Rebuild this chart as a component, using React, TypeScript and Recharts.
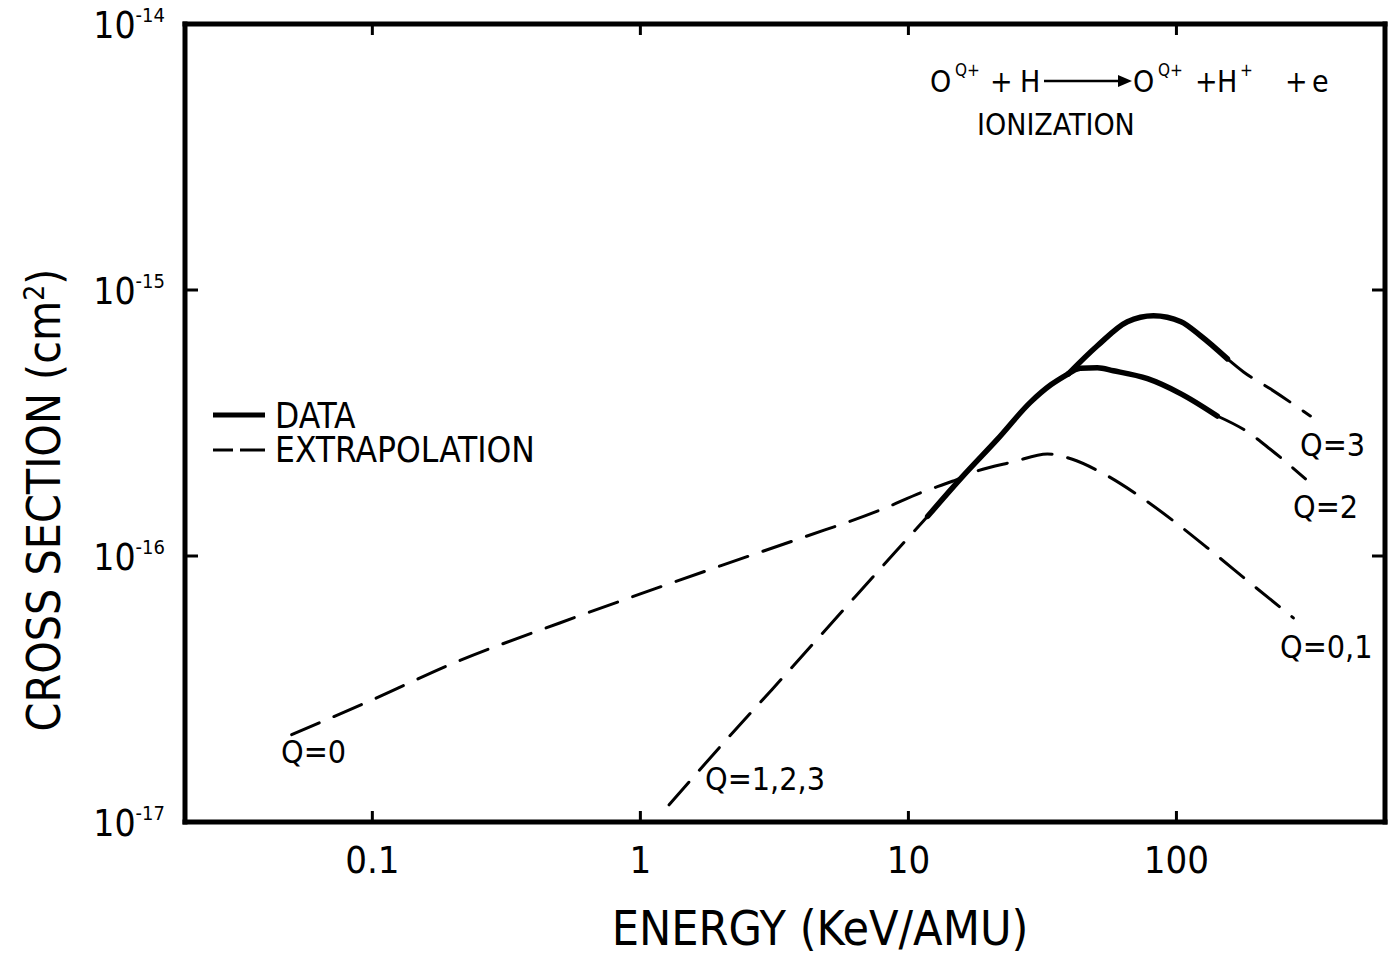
import { LineChart, Line, XAxis, YAxis, Customized } from 'recharts';

// Q=0 ionization, extrapolated across the full range (becomes the Q=0,1 branch at high energy)
const q0Energy = [0.05, 0.1, 0.2, 0.5, 1, 2, 4, 8, 11.3, 14.6, 18.1, 24.6, 33, 40.9, 52, 71.5, 97, 134, 189, 273];
const q0Sigma = [
  2.13e-17, 2.88e-17, 3.95e-17, 5.6e-17, 7.2e-17, 9.2e-17, 1.17e-16, 1.5e-16, 1.74e-16, 1.91e-16,
  2.09e-16, 2.26e-16, 2.42e-16, 2.31e-16, 2.07e-16, 1.7e-16, 1.36e-16, 1.05e-16, 7.9e-17, 5.85e-17,
];

// Q=1,2,3 low-energy extrapolation, then the shared measured rise
const q123ExtrapEnergy = [1.28, 2.24, 3.1, 5.5, 8.9, 11.8];
const q123ExtrapSigma = [1.16e-17, 2.2e-17, 3.15e-17, 6.0e-17, 1.03e-16, 1.41e-16];
const q123DataEnergy = [11.8, 16, 21.5, 28.5, 34, 39.5];
const q123DataSigma = [1.41e-16, 2.0e-16, 2.75e-16, 3.78e-16, 4.4e-16, 4.84e-16];

// Q=2 measured and extrapolated
const q2DataEnergy = [39.5, 43.8, 50.7, 58.2, 78, 104, 142];
const q2DataSigma = [4.84e-16, 5.08e-16, 5.1e-16, 4.97e-16, 4.64e-16, 4.07e-16, 3.36e-16];
const q2ExtrapEnergy = [142, 184, 224, 303];
const q2ExtrapSigma = [3.36e-16, 2.93e-16, 2.52e-16, 1.95e-16];

// Q=3 measured and extrapolated
const q3DataEnergy = [39.5, 50.7, 65.6, 82.1, 104, 123, 155];
const q3DataSigma = [4.84e-16, 6.17e-16, 7.6e-16, 8.01e-16, 7.6e-16, 6.73e-16, 5.51e-16];
const q3ExtrapEnergy = [155, 178, 224, 316];
const q3ExtrapSigma = [5.51e-16, 4.92e-16, 4.25e-16, 3.36e-16];

const energyTicks = [0.1, 1, 10, 100];
const energyTickLabels = ['0.1', '1', '10', '100'];
const sigmaTicks = [1e-17, 1e-16, 1e-15, 1e-14];

const INK = '#000';
const FONT = "'DejaVu Sans Condensed', 'DejaVu Sans', sans-serif";
const DASH = '30 16';

function toPoints(energy: number[], sigma: number[]) {
  return energy.map((e, i) => ({ e, s: sigma[i] }));
}

function BottomTick({ x, y, payload }: any) {
  const idx = energyTicks.indexOf(payload.value);
  return (
    <g>
      <line x1={x} y1={y} x2={x} y2={y - 11} stroke={INK} strokeWidth={3} />
      <text x={x} y={y + 51} textAnchor="middle" fontFamily={FONT} fontSize={38} fill={INK}>
        {energyTickLabels[idx]}
      </text>
    </g>
  );
}

function TopTick({ x, y }: any) {
  return <line x1={x} y1={y} x2={x} y2={y + 11} stroke={INK} strokeWidth={3} />;
}

function LeftTick({ x, y, payload }: any) {
  const exp = Math.round(Math.log10(payload.value));
  return (
    <g>
      <line x1={x} y1={y} x2={x + 13} y2={y} stroke={INK} strokeWidth={3} />
      <text x={x - 20} y={y + 14} textAnchor="end" fontFamily={FONT} fontSize={37} fill={INK}>
        10
        <tspan dy={-16} fontSize={20}>{exp}</tspan>
      </text>
    </g>
  );
}

function RightTick({ x, y }: any) {
  return <line x1={x} y1={y} x2={x - 13} y2={y} stroke={INK} strokeWidth={3} />;
}

// Axis titles, reaction formula, legend and curve labels
function Annotations() {
  return (
    <g fontFamily={FONT} fill={INK}>
      <text x={820} y={945} textAnchor="middle" fontSize={48}>ENERGY (KeV/AMU)</text>
      <text x={60} y={500} textAnchor="middle" fontSize={46} transform="rotate(-90 60 500)">
        CROSS SECTION (cm<tspan dy={-16} fontSize={28}>2</tspan>
        <tspan dy={16}>)</tspan>
      </text>

      {/* O^Q+ + H -> O^Q+ + H+ + e */}
      <g fontSize={30}>
        <text x={930} y={92}>O</text>
        <text x={955} y={76} fontSize={17}>Q+</text>
        <text x={990} y={92}>+</text>
        <text x={1020} y={92}>H</text>
        <line x1={1044} y1={81} x2={1122} y2={81} stroke={INK} strokeWidth={2.5} />
        <polygon points="1132,81 1118,75 1118,87" fill={INK} />
        <text x={1133} y={92}>O</text>
        <text x={1158} y={76} fontSize={17}>Q+</text>
        <text x={1195} y={92}>+</text>
        <text x={1217} y={92}>H</text>
        <text x={1240} y={76} fontSize={17}>+</text>
        <text x={1285} y={92}>+</text>
        <text x={1312} y={92}>e</text>
        <text x={977} y={135} fontSize={30}>IONIZATION</text>
      </g>

      {/* legend */}
      <line x1={213} y1={415} x2={265} y2={415} stroke={INK} strokeWidth={5} />
      <text x={275} y={428} fontSize={35}>DATA</text>
      <line x1={213} y1={450} x2={233} y2={450} stroke={INK} strokeWidth={3} />
      <line x1={240} y1={450} x2={265} y2={450} stroke={INK} strokeWidth={3} />
      <text x={275} y={462} fontSize={35}>EXTRAPOLATION</text>

      {/* curve labels */}
      <g fontSize={32}>
        <text x={1300} y={456}>Q=3</text>
        <text x={1293} y={518}>Q=2</text>
        <text x={1280} y={658}>Q=0,1</text>
        <text x={281} y={763}>Q=0</text>
        <text x={705} y={790}>Q=1,2,3</text>
      </g>
    </g>
  );
}

const solid = { stroke: INK, strokeWidth: 5.5, strokeLinecap: 'round' as const, strokeLinejoin: 'round' as const };
const dashed = { stroke: INK, strokeWidth: 3, strokeDasharray: DASH, strokeLinecap: 'round' as const };

export default function App() {
  return (
    <div style={{ position: 'absolute', left: 0, top: 0, background: '#fff' }}>
      <LineChart width={1394} height={957} margin={{ top: 22, right: 7, bottom: 55, left: 85 }}>
        <XAxis
          dataKey="e"
          type="number"
          scale="log"
          domain={[0.02, 600]}
          allowDataOverflow
          ticks={energyTicks}
          tick={<BottomTick />}
          tickLine={false}
          tickSize={0}
          tickMargin={0}
          height={80}
          axisLine={{ stroke: INK, strokeWidth: 5, strokeLinecap: 'square' }}
        />
        <XAxis
          xAxisId="top"
          orientation="top"
          dataKey="e"
          type="number"
          scale="log"
          domain={[0.02, 600]}
          allowDataOverflow
          ticks={energyTicks}
          tick={<TopTick />}
          tickLine={false}
          tickSize={0}
          tickMargin={0}
          height={2}
          axisLine={{ stroke: INK, strokeWidth: 5, strokeLinecap: 'square' }}
        />
        <YAxis
          dataKey="s"
          type="number"
          scale="log"
          domain={[1e-17, 1e-14]}
          allowDataOverflow
          ticks={sigmaTicks}
          tick={<LeftTick />}
          tickLine={false}
          tickSize={0}
          tickMargin={0}
          width={100}
          axisLine={{ stroke: INK, strokeWidth: 5, strokeLinecap: 'square' }}
        />
        <YAxis
          yAxisId="right"
          orientation="right"
          dataKey="s"
          type="number"
          scale="log"
          domain={[1e-17, 1e-14]}
          allowDataOverflow
          ticks={sigmaTicks}
          tick={<RightTick />}
          tickLine={false}
          tickSize={0}
          tickMargin={0}
          width={2}
          axisLine={{ stroke: INK, strokeWidth: 5, strokeLinecap: 'square' }}
        />

        <Line data={toPoints(q0Energy, q0Sigma)} dataKey="s" type="monotone" dot={false} activeDot={false} isAnimationActive={false} {...dashed} />
        <Line data={toPoints(q123ExtrapEnergy, q123ExtrapSigma)} dataKey="s" type="monotone" dot={false} activeDot={false} isAnimationActive={false} {...dashed} />
        <Line data={toPoints(q2ExtrapEnergy, q2ExtrapSigma)} dataKey="s" type="monotone" dot={false} activeDot={false} isAnimationActive={false} {...dashed} />
        <Line data={toPoints(q3ExtrapEnergy, q3ExtrapSigma)} dataKey="s" type="monotone" dot={false} activeDot={false} isAnimationActive={false} {...dashed} />
        <Line data={toPoints(q123DataEnergy, q123DataSigma)} dataKey="s" type="monotone" dot={false} activeDot={false} isAnimationActive={false} {...solid} />
        <Line data={toPoints(q2DataEnergy, q2DataSigma)} dataKey="s" type="monotone" dot={false} activeDot={false} isAnimationActive={false} {...solid} />
        <Line data={toPoints(q3DataEnergy, q3DataSigma)} dataKey="s" type="monotone" dot={false} activeDot={false} isAnimationActive={false} {...solid} />

        <Customized component={Annotations} />
      </LineChart>
    </div>
  );
}
